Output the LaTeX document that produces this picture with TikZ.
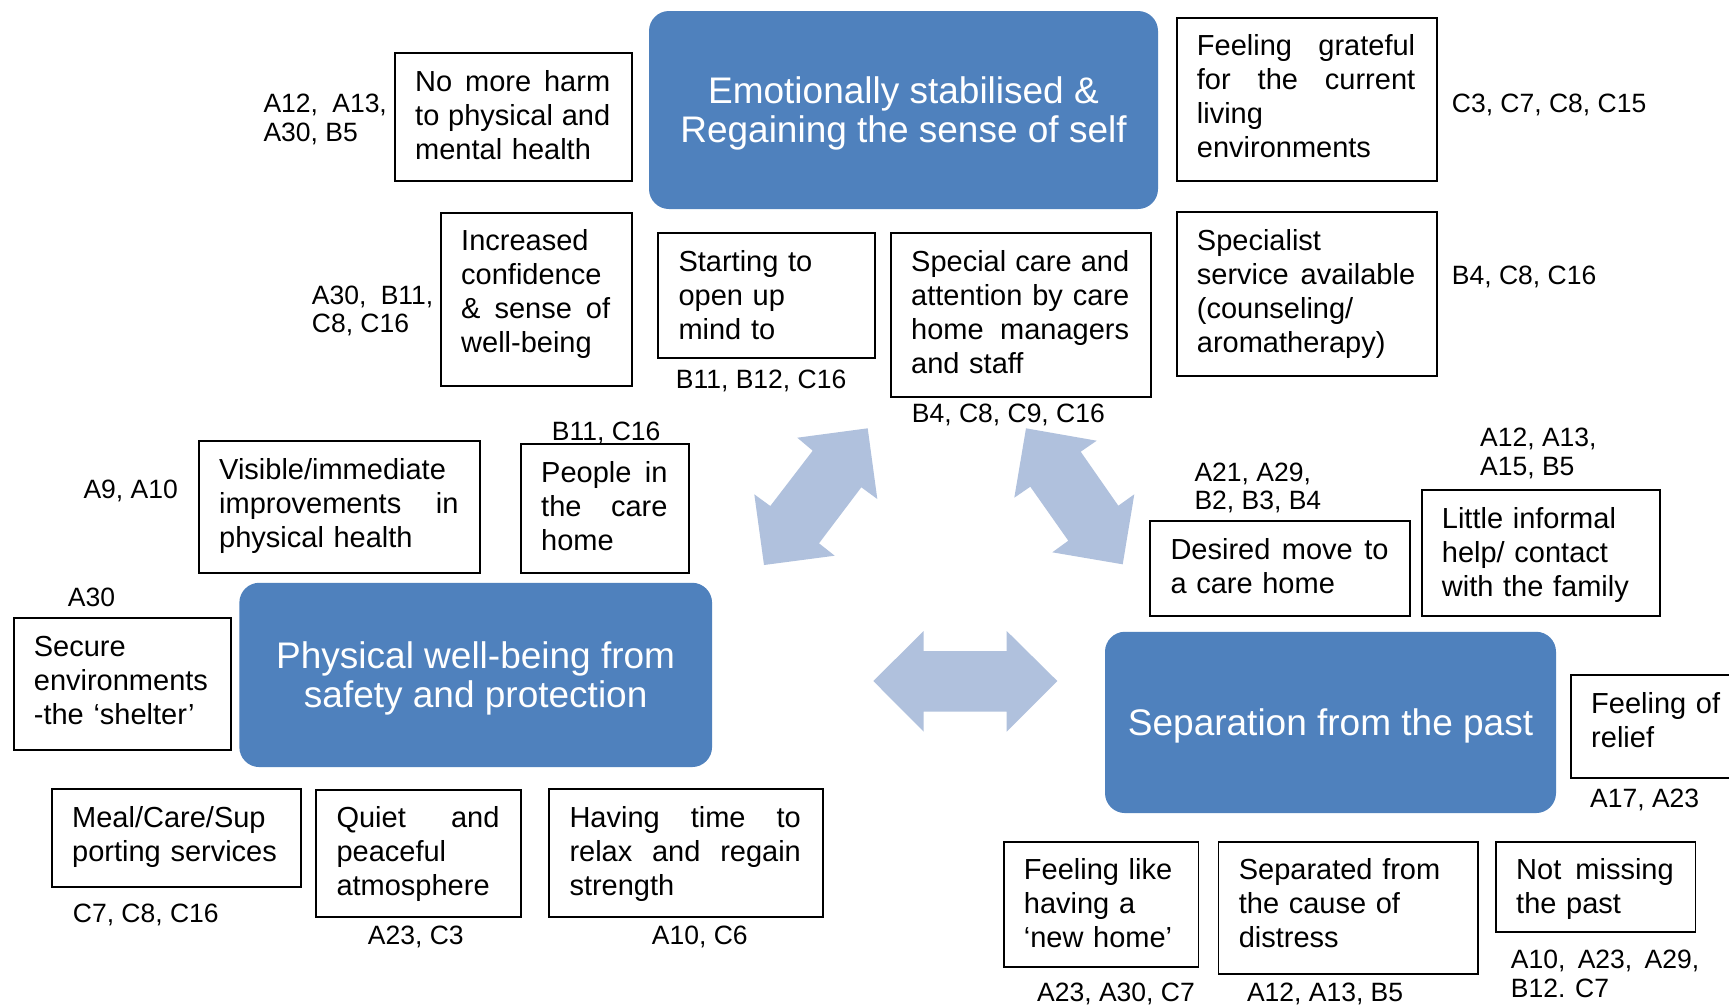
\documentclass[tikz,border=0pt]{standalone}
\usepackage{fontspec}
\setmainfont{Liberation Sans}
\definecolor{mainblue}{RGB}{79,129,189}
\definecolor{arrowblue}{RGB}{176,193,221}
\newcommand\boxfont{\fontsize{29}{34}\selectfont}
\newcommand\labfont{\fontsize{26.5}{28.5}\selectfont}
\newcommand\bigfont{\fontsize{37}{38.5}\selectfont}
% white box: name, x, y (top-left), width, height, text width, text
\newcommand\wbox[7]{%
  \node[wbox, minimum width=#4pt, minimum height=#5pt] (#1) at (#2,#3) {};
  \node[btext, text width=#6pt] (#1t) at ([shift={(21pt,-15.2pt)}]#1.north west) {\strut #7};}
% label: name, x, first baseline, text
\newcommand\reflab[4]{%
  \node[lab] (#1) at (#2,{#3-19.95}) {\strut #4};}
\begin{document}
\begin{tikzpicture}[x=1pt, y=-1pt,
  wbox/.style={draw=black, line width=1.8pt, rectangle, inner sep=0pt, anchor=north west, fill=white},
  btext/.style={anchor=north west, inner sep=0pt, align=left, font=\boxfont},
  lab/.style={anchor=north west, inner sep=0pt, align=left, font=\labfont},
  bluebox/.style={fill=mainblue, rounded corners=20pt, inner sep=0pt},
  bluetext/.style={text=white, font=\bigfont, align=center, inner sep=0pt},
  bigarrow/.style={fill=arrowblue, draw=none}]
\useasboundingbox (0,0) rectangle (1729,1005);
\clip (0,0) rectangle (1729,1005);
\fill[white] (0,0) rectangle (1729,1005);

% main themes
\node[bluebox, minimum width=509pt, minimum height=198pt] (E) at (903.5,110) {};
\node[bluetext] (Et) at ([yshift=-3.5pt]E.center) {Emotionally stabilised \&\\Regaining the sense of self};
\node[bluebox, minimum width=472.7pt, minimum height=184.3pt] (P) at (475.7,674.9) {};
\node[bluetext] (Pt) at ([yshift=-3.5pt]P.center) {Physical well-being from\\safety and protection};
\node[bluebox, minimum width=451pt, minimum height=181.3pt] (S) at (1330.5,722.4) {};
\node[bluetext] (St) at ([yshift=-3.5pt]S.center) {Separation from the past};

% double arrows
\fill[bigarrow] (797.3,437.7) -- (867.7,428.3) -- (877.3,499) -- (861.3,487.3) -- (819,543.3)
  -- (834.7,555.7) -- (764,565) -- (754.3,494.3) -- (770.3,506) -- (812.7,450.7) -- cycle;
\fill[bigarrow] (1026,428.3) -- (1096.7,440.7) -- (1080.7,451.7) -- (1118.3,505.7) -- (1134.3,494.3)
  -- (1122.7,564.3) -- (1052.3,552.3) -- (1068.3,540.7) -- (1030.3,486.7) -- (1014.3,497.7) -- cycle;
\fill[bigarrow] (873.3,681) -- (923.7,631) -- (923.7,651) -- (1006.7,651) -- (1006.7,631)
  -- (1057.3,681) -- (1006.7,731.7) -- (1006.7,711.7) -- (923.7,711.7) -- (923.7,731.7) -- cycle;

% boxes
\wbox{harm}{394}{52.3}{237}{127.7}{195}{No\hfill more\hfill harm\\to\hfill physical\hfill and\\mental~health}
\wbox{incr}{440}{211.7}{190.7}{173.3}{149}{Increased\\confidence\\\&\hfill sense\hfill of\\well-being}
\wbox{grat}{1175.7}{16.7}{260.3}{163.3}{218.3}{Feeling\hfill grateful\\for\hfill the\hfill current\\living\\environments}
\wbox{spec}{1175.7}{211.3}{260.3}{163.4}{218.3}{Specialist\\service\hfill available\\(counseling/\\aromatherapy)}
\wbox{start}{657.3}{232.3}{217}{125}{175}{Starting~to\\open~up\\mind~to}
\wbox{care}{890}{232.3}{260}{163.4}{218}{Special\hfill care\hfill and\\attention\hfill by\hfill care\\home\hfill managers\\and~staff}
\wbox{vis}{198}{440}{281.3}{131.7}{239.3}{Visible/immediate\\improvements\hfill in\\physical~health}
\wbox{people}{520}{443.3}{168.3}{128.4}{126.3}{People\hfill in\\the\hfill care\\home}
\wbox{desired}{1149.3}{520}{260}{95}{218}{Desired\hfill move\hfill to\\a~care~home}
\wbox{little}{1420.7}{489.3}{238.3}{125.7}{196}{Little~informal\\help/~contact\\with~the~family}
\wbox{secure}{12.7}{617}{217.3}{132.3}{175.3}{Secure\\environments\\-the~‘shelter’}
\wbox{meal}{51}{788}{249}{98}{207}{Meal/Care/Sup\\porting~services}
\wbox{quiet}{315.3}{788.7}{205}{127.3}{163}{Quiet\hfill and\\peaceful\\atmosphere}
\wbox{having}{548.3}{788.3}{273.4}{127.7}{231.4}{Having\hfill time\hfill to\\relax\hfill and\hfill regain\\strength}
\wbox{relief}{1570}{674.3}{200}{102.7}{180}{Feeling~of\\relief}
\wbox{feel}{1002.7}{840.7}{194.8}{125}{152.8}{Feeling~like\\having~a\\‘new~home’}
\wbox{sep}{1217.6}{840.7}{259.2}{132}{217}{Separated~from\\the~cause~of\\distress}
\wbox{miss}{1495}{840.7}{199.5}{90.3}{157.5}{Not\hfill missing\\the~past}

% reference labels
\reflab{lharm}{263.3}{112.5}{A12,\hspace{7pt} A13,\\A30, B5}
\reflab{lincr}{311.7}{304}{A30,\hspace{7pt} B11,\\C8, C16}
\reflab{lgrat}{1451.7}{112.5}{C3, C7, C8, C15}
\reflab{lspec}{1451.7}{284}{B4, C8, C16}
\reflab{lstart}{675.7}{388}{B11, B12, C16}
\reflab{lcare}{911.7}{422.5}{B4, C8, C9, C16}
\reflab{lvis}{83.3}{498.3}{A9, A10}
\reflab{lpeople}{551.7}{440}{B11, C16}
\reflab{ldesired}{1194.3}{481}{A21, A29,\\B2, B3, B4}
\reflab{llittle}{1480}{446.7}{A12, A13,\\A15, B5}
\reflab{lsecure}{67.7}{606.7}{A30}
\reflab{lmeal}{72.7}{922.5}{C7, C8, C16}
\reflab{lquiet}{367.7}{944.3}{A23, C3}
\reflab{lhaving}{651.7}{944.3}{A10, C6}
\reflab{lrelief}{1590}{807.5}{A17, A23}
\reflab{lfeel}{1037}{1001.7}{A23, A30, C7}
\reflab{lsep}{1246.8}{1001.7}{A12, A13, B5}
\reflab{lmiss}{1510.7}{968.5}{A10,\hspace{5pt} A23,\hspace{5pt} A29,\\B12. C7}
\end{tikzpicture}
\end{document}
